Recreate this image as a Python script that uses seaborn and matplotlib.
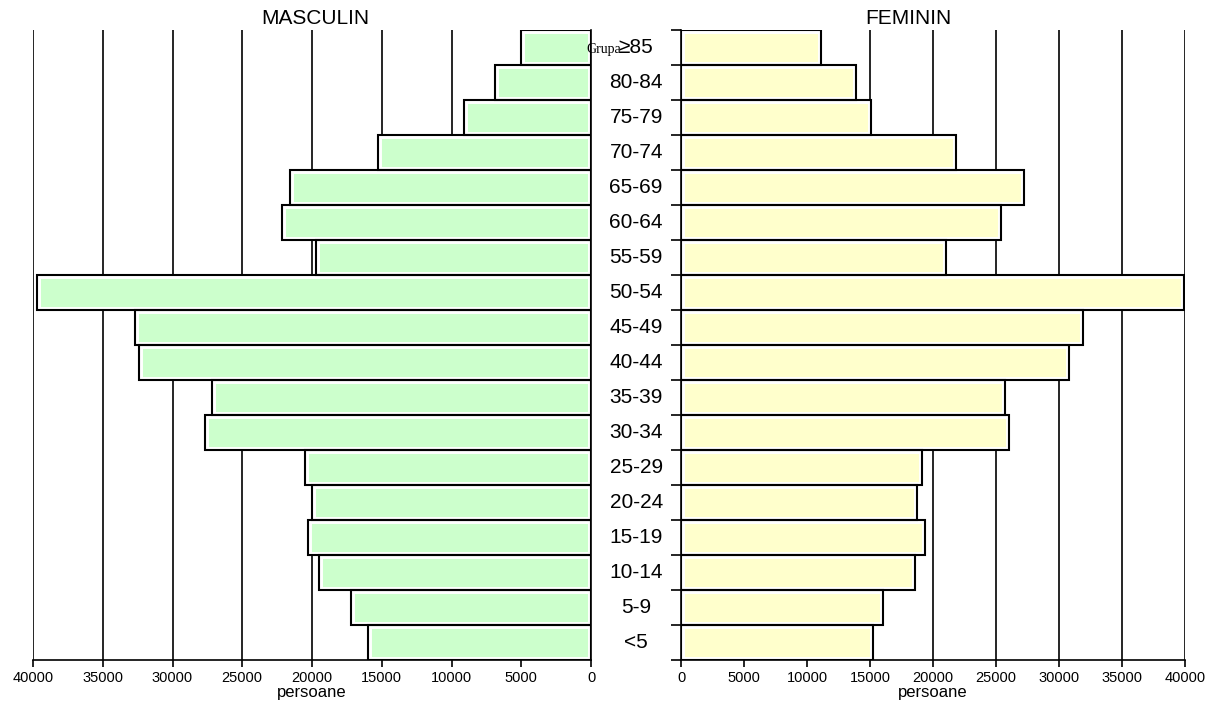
import matplotlib
matplotlib.use('Agg')
import matplotlib.pyplot as plt
from matplotlib.patches import Rectangle
import seaborn as sns
import numpy as np
import pandas as pd

# age groups, top to bottom
GROUPS = ['≥85', '80-84', '75-79', '70-74', '65-69', '60-64', '55-59', '50-54', '45-49',
          '40-44', '35-39', '30-34', '25-29', '20-24', '15-19', '10-14', '5-9', '<5']
MALE = [5000, 6900, 9100, 15300, 21600, 22150, 19700, 39700, 32700,
        32400, 27200, 27700, 20500, 20000, 20300, 19500, 17200, 16000]
FEMALE = [11100, 13900, 15100, 21800, 27200, 25400, 21000, 39900, 31900,
          30800, 25700, 26000, 19100, 18700, 19400, 18600, 16000, 15200]
XTICKS = [0, 5000, 10000, 15000, 20000, 25000, 30000, 35000, 40000]

sns.set_style('white')
plt.rcParams['font.family'] = ['Liberation Sans', 'DejaVu Sans']
plt.rcParams['text.color'] = 'black'
plt.rcParams['axes.labelcolor'] = 'black'
plt.rcParams['xtick.color'] = 'black'
plt.rcParams['ytick.color'] = 'black'

W, H = 1218, 709
fig = plt.figure(figsize=(W / 100, H / 100), dpi=100)
bottom = 1 - 660 / H
height = (660 - 30) / H
ax_m = fig.add_axes([33 / W, bottom, (591 - 33) / W, height])
ax_f = fig.add_axes([681 / W, bottom, (1185 - 681) / W, height])

df = pd.DataFrame({'grupa': GROUPS, 'masculin': MALE, 'feminin': FEMALE})


def draw_side(ax, col, fill):
    sns.barplot(data=df, x=col, y='grupa', order=GROUPS, orient='h', ax=ax,
                color=fill, saturation=1, width=1.0, edgecolor='none',
                linewidth=0, zorder=3)
    # white inner rim and black outline, like the original bars
    for p in list(ax.patches):
        rim = Rectangle(p.get_xy(), p.get_width(), p.get_height(), fill=False,
                        edgecolor='white', lw=5, zorder=3.5)
        ax.add_patch(rim)
        rim.set_clip_path(p)
        ax.add_patch(Rectangle(p.get_xy(), p.get_width(), p.get_height(), fill=False,
                               edgecolor='black', lw=1.5, zorder=4))
    for t in XTICKS[1:]:
        ax.axvline(t, color='black', lw=1.2, zorder=1)
    ax.set_xlim(0, 40000)
    ax.set_ylim(len(GROUPS) - 0.5, -0.5)
    ax.set_xticks(XTICKS)
    ax.set_xticklabels([str(t) for t in XTICKS], fontsize=10.5)
    ax.tick_params(axis='x', direction='out', length=5, width=1.2, bottom=True, pad=3)
    ax.set_xlabel('persoane', fontsize=12, labelpad=0)
    ax.set_ylabel('')
    ax.set_yticks(np.arange(-0.5, len(GROUPS), 1.0))
    ax.set_yticklabels([])
    for s in ax.spines.values():
        s.set_visible(False)
    ax.spines['bottom'].set_visible(True)
    ax.spines['bottom'].set_linewidth(1.2)
    ax.spines['bottom'].set_color('black')


draw_side(ax_m, 'masculin', '#CCFFCC')
draw_side(ax_f, 'feminin', '#FFFFCC')

ax_m.invert_xaxis()
ax_m.spines['right'].set_visible(True)
ax_m.spines['right'].set_linewidth(1.2)
ax_m.spines['right'].set_color('black')
ax_m.tick_params(axis='y', left=False, right=False)

ax_f.spines['left'].set_visible(True)
ax_f.spines['left'].set_linewidth(1.2)
ax_f.spines['left'].set_color('black')
ax_f.tick_params(axis='y', left=True, direction='out', length=7, width=1.2)

# age group labels between the two halves
for i, g in enumerate(GROUPS):
    ax_f.text(-0.089, i, g, transform=ax_f.get_yaxis_transform(), ha='center',
              va='center', fontsize=15)
fig.text(604 / W, 1 - 49 / H, 'Grupa', fontsize=10, family='Liberation Serif',
         ha='center', va='center')

fig.text(315 / W, 1 - 18 / H, 'MASCULIN', fontsize=15, ha='center', va='center')
fig.text(908 / W, 1 - 18 / H, 'FEMININ', fontsize=15, ha='center', va='center')

fig.savefig('out.png', dpi=100)
